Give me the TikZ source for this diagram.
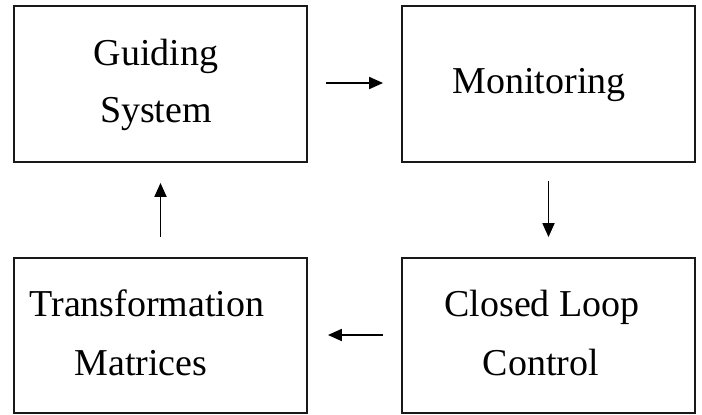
\documentclass[tikz,border=0pt]{standalone}
\usepackage{fontspec}
\setmainfont{Liberation Serif}
\usetikzlibrary{arrows.meta}
\begin{document}
\begin{tikzpicture}[x=1pt,y=-1pt,
  blockbox/.style={draw=black!90, line width=1.8pt, minimum width=293pt, inner sep=0pt},
  lbl/.style={anchor=base, inner sep=0pt, font=\fontsize{38}{46}\selectfont},
  conn/.style={line width=1.8pt, -{Triangle[length=14pt,width=12pt]}}]
\useasboundingbox (0,0) rectangle (702,415);
\node[blockbox, minimum height=156pt] (gs) at (160.5,84) {};
\node[blockbox, minimum height=156pt] (mon) at (548.5,84) {};
\node[blockbox, minimum height=155pt] (tm) at (160.5,335.5) {};
\node[blockbox, minimum height=155pt] (clc) at (548.5,335.5) {};
\node[lbl] (t1) at (156,65) {Guiding};
\node[lbl] (t2) at (156,122) {System};
\node[lbl] (t3) at (539,93) {Monitoring};
\node[lbl] (t4) at (147,316) {Transformation};
\node[lbl] (t5) at (141,375) {Matrices};
\node[lbl] (t6) at (542,316) {Closed Loop};
\node[lbl] (t7) at (541,375) {Control};
\draw[conn, shorten <=18pt, shorten >=18pt] (gs.east |- 0,83) -- (mon.west |- 0,83);
\draw[conn, shorten <=18pt, shorten >=20pt] (mon.south) -- (clc.north);
\draw[conn, shorten <=18pt, shorten >=20pt] (clc.west |- 0,335) -- (tm.east |- 0,335);
\draw[conn, shorten <=20pt, shorten >=20pt] (tm.north) -- (gs.south);
\end{tikzpicture}
\end{document}
